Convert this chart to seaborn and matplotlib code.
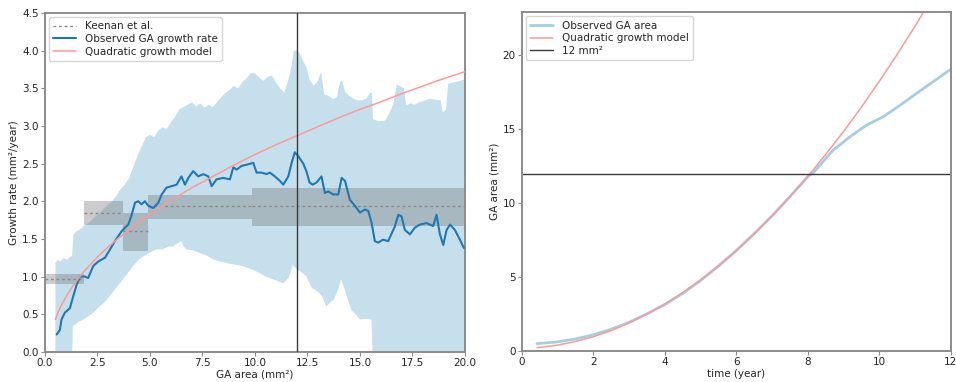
import numpy as np
import matplotlib
matplotlib.use("Agg")
import matplotlib.pyplot as plt
import seaborn as sns

# ---- growth rate vs. GA area ----
area_obs = [0.56, 0.71, 0.79, 0.95, 1.19, 1.35, 1.51, 1.67, 1.90, 2.06, 2.30, 2.54,
            2.86, 3.10, 3.33, 3.65, 3.81, 3.97, 4.13, 4.29, 4.44, 4.60, 4.76, 4.92,
            5.16, 5.40, 5.56, 5.79, 6.03, 6.27, 6.50, 6.67, 6.83, 7.06, 7.30, 7.54,
            7.78, 7.94, 8.17, 8.49, 8.81, 8.97, 9.13, 9.37, 9.68, 9.92, 10.08, 10.32,
            10.56, 10.71, 10.95, 11.19, 11.35, 11.59, 11.75, 11.90, 12.06, 12.30, 12.45,
            12.60, 12.75, 12.94, 13.17, 13.33, 13.49, 13.73, 13.97, 14.13, 14.29, 14.52,
            14.76, 15.00, 15.24, 15.40, 15.56, 15.71, 15.87, 16.10, 16.35, 16.67, 16.83,
            16.98, 17.14, 17.38, 17.62, 17.86, 18.17, 18.49, 18.65, 18.81, 18.97, 19.13,
            19.29, 19.52, 19.76, 19.95]
rate_obs = [0.23, 0.29, 0.43, 0.52, 0.58, 0.74, 0.89, 1.00, 1.00, 0.98, 1.14, 1.20,
            1.25, 1.36, 1.47, 1.60, 1.65, 1.69, 1.82, 1.98, 2.00, 1.96, 2.00, 1.94,
            1.91, 1.98, 2.09, 2.18, 2.20, 2.22, 2.33, 2.22, 2.31, 2.40, 2.33, 2.36,
            2.33, 2.20, 2.29, 2.31, 2.29, 2.45, 2.42, 2.47, 2.49, 2.51, 2.38, 2.38,
            2.36, 2.38, 2.33, 2.27, 2.22, 2.33, 2.51, 2.65, 2.60, 2.50, 2.40,
            2.25, 2.22, 2.25, 2.33, 2.11, 2.13, 2.09, 2.09, 2.31, 2.27, 2.02,
            1.94, 1.85, 1.89, 1.87, 1.71, 1.47, 1.45, 1.49, 1.47, 1.67, 1.82,
            1.80, 1.62, 1.56, 1.65, 1.69, 1.71, 1.67, 1.82, 1.56, 1.42, 1.62,
            1.69, 1.62, 1.49, 1.38]

band_up_area = [0.5, 0.6, 0.75, 0.9, 1.05, 1.2, 1.3, 1.35, 1.5, 1.65, 1.8, 2.0, 2.2, 2.4,
                2.6, 2.8, 3.0, 3.2, 3.4, 3.6, 3.8, 4.0, 4.2, 4.4, 4.6, 4.8, 5.0, 5.2, 5.4,
                5.6, 5.8, 6.0, 6.2, 6.4, 6.6, 6.8, 7.0, 7.2, 7.4, 7.6, 7.8, 8.0, 8.2, 8.4,
                8.6, 8.8, 9.0, 9.2, 9.4, 9.6, 9.8, 10.0, 10.2, 10.4, 10.6, 10.8, 11.0, 11.2,
                11.4, 11.6, 11.75, 11.85, 12.0, 12.15, 12.3, 12.45, 12.6, 12.8, 13.0, 13.15,
                13.3, 13.5, 13.7, 13.9, 14.05, 14.15, 14.3, 14.5, 14.7, 14.9, 15.1, 15.3,
                15.5, 15.58, 15.62, 15.9, 16.2, 16.45, 16.6, 16.75, 16.9, 17.1, 17.2, 17.4,
                17.6, 17.8, 18.0, 18.3, 18.6, 18.85, 18.95, 19.1, 19.2, 19.5, 19.8, 20.0]
band_up = [1.18, 1.22, 1.20, 1.25, 1.22, 1.26, 1.28, 1.55, 1.60, 1.62, 1.66, 1.70, 1.74, 1.80,
           1.84, 1.90, 1.95, 2.00, 2.07, 2.16, 2.22, 2.30, 2.45, 2.60, 2.72, 2.85, 2.88, 2.85, 2.94,
           2.98, 2.96, 3.05, 3.12, 3.22, 3.25, 3.28, 3.31, 3.26, 3.30, 3.24, 3.28, 3.25, 3.32, 3.38,
           3.44, 3.48, 3.53, 3.50, 3.58, 3.63, 3.70, 3.70, 3.64, 3.60, 3.65, 3.67, 3.58, 3.50,
           3.44, 3.62, 3.80, 4.00, 4.00, 3.96, 3.86, 3.78, 3.62, 3.53, 3.60, 3.72,
           3.42, 3.40, 3.36, 3.38, 3.58, 3.60, 3.45, 3.40, 3.36, 3.34, 3.34, 3.36,
           3.44, 3.44, 3.09, 3.06, 3.07, 3.20, 3.30, 3.55, 3.53, 3.50, 3.27, 3.30,
           3.28, 3.31, 3.33, 3.36, 3.35, 3.34, 3.18, 3.22, 3.56, 3.58, 3.60, 3.62]

band_lo_area = [0.5, 1.3, 1.33, 1.6, 1.85, 2.1, 2.3, 2.6, 2.95, 3.25, 3.6, 3.9, 4.2, 4.45,
                4.7, 5.0, 5.3, 5.6, 5.9, 6.1, 6.3, 6.5, 6.6, 6.75, 7.0, 7.4, 7.7, 8.0, 8.3,
                8.65, 9.0, 9.4, 9.8, 10.2, 10.5, 10.9, 11.35, 11.6, 11.8, 12.0, 12.2, 12.45,
                12.7, 13.0, 13.2, 13.4, 13.6, 13.75, 13.95, 14.1, 14.25, 14.4, 14.6, 14.8,
                15.0, 15.3, 15.55, 15.6, 20.0]
band_lo = [0.0, 0.0, 0.34, 0.40, 0.43, 0.48, 0.52, 0.60, 0.69, 0.80, 0.92, 1.03, 1.14, 1.22,
           1.27, 1.32, 1.36, 1.36, 1.40, 1.40, 1.44, 1.47, 1.40, 1.36, 1.35, 1.31, 1.28, 1.23, 1.20,
           1.18, 1.16, 1.14, 1.10, 1.05, 1.00, 0.96, 0.91, 0.98, 1.15, 1.10, 1.06, 1.00,
           0.85, 0.80, 0.74, 0.60, 0.66, 0.69, 0.82, 0.96, 0.85, 0.72, 0.55, 0.50,
           0.43, 0.44, 0.43, 0.0, 0.0]

model_area = [0.5, 0.6, 0.75, 1.0, 1.25, 1.5, 1.75, 2.0, 2.5, 3.0, 3.5, 4.0, 4.5, 5.0,
              6.0, 7.0, 8.0, 9.0, 10.0, 11.0, 12.0, 13.0, 14.0, 15.0, 16.0, 17.0, 18.0,
              19.0, 20.0]
model_rate = [0.43, 0.51, 0.60, 0.73, 0.84, 0.94, 1.03, 1.11, 1.26, 1.39, 1.51, 1.62, 1.73,
              1.83, 2.01, 2.18, 2.33, 2.48, 2.62, 2.75, 2.87, 2.99, 3.11, 3.22, 3.32,
              3.43, 3.53, 3.63, 3.72]

keenan_from = [0.0, 1.87, 3.73, 4.92, 9.84]
keenan_to = [1.87, 3.73, 4.92, 9.84, 20.0]
keenan_mean = [0.97, 1.84, 1.60, 1.93, 1.93]
keenan_low = [0.90, 1.69, 1.34, 1.76, 1.67]
keenan_high = [1.03, 2.00, 1.84, 2.08, 2.18]

threshold_area = 12

# ---- GA area vs. time ----
time_obs = [0.42, 1.0, 1.5, 2.0, 2.5, 3.0, 3.5, 4.0, 4.5, 5.0, 5.5, 6.0, 6.5, 7.0, 7.5,
            8.0, 8.15, 8.7, 9.17, 9.64, 10.1, 10.57, 11.03, 11.5, 12.0]
area_time_obs = [0.50, 0.62, 0.82, 1.10, 1.48, 1.95, 2.52, 3.15, 3.90, 4.78, 5.75, 6.80,
                 7.95, 9.15, 10.45, 11.80, 12.05, 13.57, 14.47, 15.27, 15.83, 16.60,
                 17.40, 18.20, 19.05]
time_model = [0.42, 1.0, 1.5, 2.0, 2.5, 3.0, 3.5, 4.0, 4.5, 5.0, 5.5, 6.0, 6.5, 7.0, 7.5,
              8.0, 8.5, 9.0, 9.5, 10.0, 10.5, 11.0, 11.5]
area_model = [0.23, 0.40, 0.65, 0.97, 1.39, 1.90, 2.50, 3.18, 3.95, 4.81, 5.76, 6.79, 7.92,
              9.13, 10.44, 11.81, 13.30, 14.85, 16.50, 18.24, 20.06, 21.98, 23.98]

sns.set_theme(style="ticks")
plt.rcParams["font.family"] = ["DejaVu Sans"]
pal = sns.color_palette("Paired")
light_blue, dark_blue, salmon = pal[0], pal[1], pal[4]
spine_col = "#8c8c8c"

fig = plt.figure(figsize=(9.56, 3.82), dpi=100)
ax1 = fig.add_axes([0.047, 0.079, 0.4393, 0.887])
ax2 = fig.add_axes([0.546, 0.081, 0.4487, 0.887])

# band of observed growth rates
ax1.fill(np.r_[band_up_area, band_lo_area[::-1]], np.r_[band_up, band_lo[::-1]],
         color=light_blue, alpha=0.65, lw=0, zorder=1)

# Keenan et al. reference rates
for i, (x0, x1, m, lo, hi) in enumerate(zip(keenan_from, keenan_to, keenan_mean,
                                              keenan_low, keenan_high)):
    ax1.fill_between([x0, x1], [lo, lo], [hi, hi], color="#7a7a7a", alpha=0.38,
                     lw=0, zorder=2)
    ax1.plot([x0, x1], [m, m], ls=(0, (2, 2)), color="#8a8a8a", lw=1.0, zorder=3,
             label="Keenan et al." if i == 0 else None)

sns.lineplot(x=area_obs, y=rate_obs, ax=ax1, color=dark_blue, lw=1.5,
             estimator=None, sort=False, label="Observed GA growth rate", zorder=4)
sns.lineplot(x=model_area, y=model_rate, ax=ax1, color=salmon, lw=1.1,
             estimator=None, sort=False, label="Quadratic growth model", zorder=5)
ax1.axvline(threshold_area, color="#3a3a3a", lw=1.0, zorder=6)

ax1.set_xlim(0, 20)
ax1.set_ylim(0, 4.5)
ax1.set_xticks(np.arange(0, 20.1, 2.5))
ax1.set_yticks(np.arange(0, 4.51, 0.5))
ax1.set_xlabel("GA area (mm²)", fontsize=7.5, labelpad=1)
ax1.set_ylabel("Growth rate (mm²/year)", fontsize=7.5, labelpad=2)
ax1.legend(loc="upper left", fontsize=7.5, frameon=True, handlelength=2.2,
           borderaxespad=0.4, labelspacing=0.25)

sns.lineplot(x=time_obs, y=area_time_obs, ax=ax2, color=light_blue, lw=2.0,
             estimator=None, sort=False, label="Observed GA area")
sns.lineplot(x=time_model, y=area_model, ax=ax2, color=salmon, lw=1.1,
             estimator=None, sort=False, label="Quadratic growth model")
ax2.axhline(threshold_area, color="#3a3a3a", lw=1.0, label="12 mm²")
ax2.set_xlim(0, 12)
ax2.set_ylim(0, 22.9)
ax2.set_xticks(np.arange(0, 12.1, 2))
ax2.set_yticks([0, 5, 10, 15, 20])
ax2.set_xlabel("time (year)", fontsize=7.5, labelpad=1)
ax2.set_ylabel("GA area (mm²)", fontsize=7.5, labelpad=2)
ax2.legend(loc="upper left", fontsize=7.5, frameon=True, handlelength=2.2,
           borderaxespad=0.4, labelspacing=0.25)

for ax in (ax1, ax2):
    for s in ax.spines.values():
        s.set_visible(True)
        s.set_color(spine_col)
        s.set_linewidth(1.4)
    ax.tick_params(labelsize=7.5, length=3, width=0.8, color=spine_col, pad=1.5)

fig.savefig("out.png", dpi=100)
